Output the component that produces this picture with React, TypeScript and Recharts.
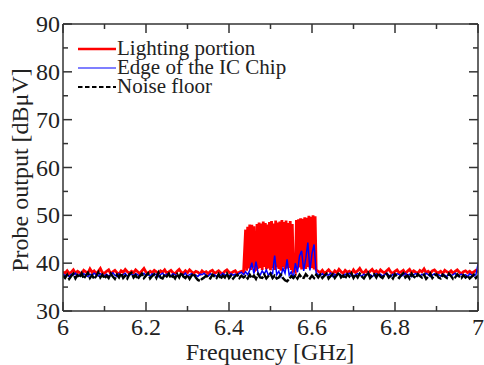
import React from "react";
import { LineChart, Line, XAxis, YAxis } from "recharts";

const FREQ_START = 6;
const FREQ_STEP = 0.005;
const BURST_START = 6.44;
const BURST_STEP = 0.0025;
const AFTER_START = 6.615;

// Lighting portion: 6.000–6.435 (step 0.005)
const lightingBefore: number[] = [
  38.2,37.9,38.4,37.8,38.1,38.6,37.9,38.3,38.0,37.7,
  38.5,38.2,37.9,38.8,38.1,38.4,37.8,38.3,38.9,38.0,
  37.9,38.3,38.6,37.8,38.2,38.5,38.0,37.7,38.4,38.1,
  38.7,38.2,37.9,38.3,38.0,38.6,38.2,37.8,38.4,38.9,
  38.1,37.9,38.3,38.0,38.5,38.2,37.8,38.4,38.1,38.6,
  37.9,38.2,38.5,38.0,37.8,38.3,38.7,38.1,37.9,38.4,
  38.0,38.6,38.2,37.9,38.3,38.1,37.7,38.4,38.0,38.2,
  37.8,38.3,38.5,37.9,38.1,38.4,38.0,37.8,38.3,38.6,
  38.1,37.9,38.2,38.4,37.8,38.1,38.3,38.0,
];
// Lighting portion: 6.440–6.610 (step 0.0025)
const lightingBurst: number[] = [
  47.0,38.4,47.6,38.9,48.1,38.6,48.0,39.1,47.7,38.5,
  38.7,48.2,38.8,48.5,39.0,48.3,38.6,48.7,39.2,48.4,
  38.7,48.1,38.9,48.6,38.5,48.8,39.0,48.3,38.6,48.9,
  39.1,48.5,38.8,48.7,38.4,49.0,39.2,48.6,38.7,48.9,
  38.9,48.4,39.0,48.8,38.6,48.2,38.5,38.8,38.4,49.0,
  38.9,49.2,39.1,49.4,38.7,49.3,39.0,49.6,38.8,49.5,
  39.2,49.9,38.9,49.7,39.0,50.0,38.7,49.8,38.6,
];
// Lighting portion: 6.615–7.000 (step 0.005)
const lightingAfter: number[] = [
  38.3,38.0,38.5,37.9,38.2,38.6,38.1,37.8,38.4,38.0,
  38.7,38.2,37.9,38.5,38.1,38.3,37.8,38.6,38.0,38.4,
  38.9,38.2,38.0,38.5,37.9,38.3,38.7,38.1,38.4,37.9,
  38.6,38.2,38.0,38.4,38.8,38.1,37.9,38.3,38.6,38.0,
  38.2,38.5,37.8,38.3,38.7,38.0,38.4,38.1,37.9,38.5,
  38.2,38.8,38.0,38.3,37.9,38.4,38.6,38.1,38.0,38.3,
  37.8,38.5,38.2,38.0,38.4,37.9,38.3,38.6,38.1,37.8,
  38.2,38.4,38.0,38.3,37.9,38.2,38.5,38.1,
];

// Edge of the IC Chip: 6.000–7.000 (step 0.005)
const edgeOfChip: number[] = [
  37.8,37.4,37.6,37.2,37.7,37.5,37.9,37.3,37.6,37.4,
  37.8,37.5,37.2,37.7,37.4,37.9,37.6,37.3,37.8,37.5,
  37.4,37.7,37.3,37.6,38.0,37.5,37.2,37.8,37.4,37.6,
  37.9,37.3,37.5,37.7,37.4,37.8,37.6,37.2,37.5,37.9,
  37.4,37.6,37.3,37.8,37.5,37.7,37.2,37.6,37.9,37.4,
  37.7,37.5,37.3,37.8,37.6,37.4,37.2,37.7,37.5,37.9,
  37.3,37.6,37.8,37.4,37.5,37.2,37.7,37.6,37.9,37.4,
  37.3,37.8,37.5,37.6,37.2,37.7,37.4,37.9,37.5,37.6,
  37.3,37.8,37.5,37.7,37.4,37.9,38.1,37.6,
  38.2,37.6,38.5,40.1,37.8,40.3,38.0,37.5,38.4,37.7,
  38.6,37.4,38.1,37.8,41.6,37.6,38.3,37.2,38.9,37.9,
  40.8,37.5,38.2,36.9,40.0,38.1,41.5,42.6,38.4,41.0,
  44.3,38.5,42.0,43.9,38.0,
  37.6,37.4,37.8,37.3,37.6,37.5,37.9,37.2,37.7,37.4,
  37.8,37.5,37.3,37.7,37.6,37.9,37.4,37.2,37.6,37.8,
  37.5,37.3,37.7,37.4,37.9,37.6,37.2,37.5,37.8,37.4,
  37.7,37.3,37.6,37.9,37.5,37.2,37.7,37.4,37.8,37.6,
  37.3,37.5,37.9,37.4,37.7,37.2,37.6,37.8,37.5,37.3,
  37.7,37.4,37.9,37.6,37.2,37.5,37.8,37.4,37.6,37.3,
  37.7,37.5,37.2,37.8,37.4,37.6,37.9,37.3,37.5,37.7,
  37.4,37.6,37.2,37.8,37.5,37.3,37.6,39.8,
];

// Noise floor: 6.000–7.000 (step 0.005)
const noiseFloor: number[] = [
  37.4,36.9,37.6,36.7,37.3,37.8,36.8,37.5,37.0,37.9,
  36.8,37.4,38.0,36.9,37.5,36.7,37.3,38.1,37.0,37.6,
  36.8,37.4,36.9,37.8,37.2,36.7,37.6,37.0,37.9,36.9,
  37.4,36.8,37.7,38.0,37.0,37.5,36.7,37.3,37.8,36.9,
  37.4,37.9,36.8,37.3,37.7,36.9,38.0,37.0,36.8,37.6,
  37.2,37.8,36.9,37.4,36.8,37.7,37.0,38.0,37.2,36.9,
  37.5,36.7,37.4,37.8,37.0,36.5,36.3,36.7,37.0,37.4,
  37.0,36.8,37.6,37.2,36.9,37.7,36.7,37.4,37.0,37.8,
  36.9,37.4,36.8,37.3,37.6,36.9,37.4,37.0,
  37.3,36.8,37.6,36.9,37.4,36.7,37.7,37.0,36.9,37.6,
  36.8,37.3,37.8,36.9,37.4,36.8,37.0,37.6,36.9,36.4,
  36.2,36.7,37.3,36.9,37.4,36.8,37.6,37.0,36.9,37.7,
  37.2,36.8,37.4,36.9,37.6,
  37.0,37.6,36.9,37.4,37.8,36.8,37.3,37.7,36.9,37.5,
  38.0,37.0,37.4,36.8,37.7,37.2,37.9,36.9,37.6,37.0,
  37.8,37.2,36.8,37.5,38.0,36.9,37.4,37.7,37.0,37.9,
  37.2,36.9,37.6,37.8,37.0,37.4,36.8,37.7,37.2,36.9,
  37.5,37.9,37.0,37.4,36.8,37.8,37.2,36.9,37.7,37.3,
  37.0,37.6,36.7,37.2,37.8,36.9,37.4,37.7,37.0,36.8,
  37.6,37.2,36.9,37.8,37.3,36.7,37.0,37.7,37.2,36.9,
  37.5,37.0,37.4,36.8,37.2,37.6,36.9,37.4,
];

const xTicks = [6, 6.1, 6.2, 6.3, 6.4, 6.5, 6.6, 6.7, 6.8, 6.9, 7];
const yTicks = [30, 35, 40, 45, 50, 55, 60, 65, 70, 75, 80, 85, 90];

const seriesNames = ["Lighting portion", "Edge of the IC Chip", "Noise floor"];

const data = edgeOfChip.map((v, i) => ({
  f: FREQ_START + i * FREQ_STEP,
  edge: v,
  noise: noiseFloor[i],
}));

const lightingData = [
  ...lightingBefore.map((v, i) => ({ f: FREQ_START + i * FREQ_STEP, lighting: v })),
  ...lightingBurst.map((v, i) => ({ f: BURST_START + i * BURST_STEP, lighting: v })),
  ...lightingAfter.map((v, i) => ({ f: AFTER_START + i * FREQ_STEP, lighting: v })),
];

const FONT = "'Liberation Serif', 'DejaVu Serif', serif";
const textStyle: React.CSSProperties = { fontFamily: FONT };
const AXIS = "#333";
const MAJOR = 9;
const MINOR = 5;

const isMajorX = (v: number) => Math.round(v * 10) % 2 === 0;
const isMajorY = (v: number) => Math.round(v) % 10 === 0;

const BottomTick = (props: any) => {
  const { x, y, payload } = props;
  const v = payload.value as number;
  const major = isMajorX(v);
  return (
    <g>
      <line x1={x} x2={x} y1={y} y2={y - (major ? MAJOR : MINOR)} stroke={AXIS} strokeWidth={1.5} />
      {major && (
        <text x={x} y={y + 24} textAnchor="middle" style={textStyle} fontSize={24} fill="#222">
          {String(Number(v.toFixed(1)))}
        </text>
      )}
    </g>
  );
};

const TopTick = (props: any) => {
  const { x, y, payload } = props;
  const major = isMajorX(payload.value);
  return <line x1={x} x2={x} y1={y} y2={y + (major ? MAJOR : MINOR)} stroke={AXIS} strokeWidth={1.5} />;
};

const LeftTick = (props: any) => {
  const { x, y, payload } = props;
  const v = payload.value as number;
  const major = isMajorY(v);
  return (
    <g>
      <line x1={x} x2={x + (major ? MAJOR : MINOR)} y1={y} y2={y} stroke={AXIS} strokeWidth={1.5} />
      {major && (
        <text x={x - 3} y={y + 8} textAnchor="end" style={textStyle} fontSize={24} fill="#222">
          {String(v)}
        </text>
      )}
    </g>
  );
};

const RightTick = (props: any) => {
  const { x, y, payload } = props;
  const major = isMajorY(payload.value);
  return <line x1={x} x2={x - (major ? MAJOR : MINOR)} y1={y} y2={y} stroke={AXIS} strokeWidth={1.5} />;
};

const legendItems = [
  { name: seriesNames[0], color: "#ff0000", width: 2.5, dash: undefined as string | undefined },
  { name: seriesNames[1], color: "#0000ff", width: 1.2, dash: undefined as string | undefined },
  { name: seriesNames[2], color: "#000000", width: 2, dash: "4.5 2.5" },
];

export default function App() {
  return (
    <div style={{ position: "absolute", left: 0, top: 0, width: 484, height: 365, background: "#fff" }}>
      <LineChart width={484} height={365} data={data} margin={{ top: 23, right: 5, bottom: 14, left: 13 }}>
        <XAxis
          dataKey="f"
          type="number"
          domain={[6, 7]}
          ticks={xTicks}
          interval={0}
          height={40}
          tickSize={0}
          tickMargin={0}
          tickLine={false}
          tick={<BottomTick />}
          axisLine={{ stroke: AXIS, strokeWidth: 1.5 }}
          allowDataOverflow
        />
        <XAxis
          xAxisId="top"
          orientation="top"
          dataKey="f"
          type="number"
          domain={[6, 7]}
          ticks={xTicks}
          interval={0}
          height={1}
          tickSize={0}
          tickMargin={0}
          tickLine={false}
          tick={<TopTick />}
          axisLine={{ stroke: AXIS, strokeWidth: 1.5 }}
          allowDataOverflow
        />
        <YAxis
          type="number"
          domain={[30, 90]}
          ticks={yTicks}
          interval={0}
          width={50}
          tickSize={0}
          tickMargin={0}
          tickLine={false}
          tick={<LeftTick />}
          axisLine={{ stroke: AXIS, strokeWidth: 1.5 }}
          allowDataOverflow
        />
        <YAxis
          yAxisId="right"
          orientation="right"
          type="number"
          domain={[30, 90]}
          ticks={yTicks}
          interval={0}
          width={1}
          tickSize={0}
          tickMargin={0}
          tickLine={false}
          tick={<RightTick />}
          axisLine={{ stroke: AXIS, strokeWidth: 1.5 }}
          allowDataOverflow
        />
        <Line data={lightingData} dataKey="lighting" name={seriesNames[0]} stroke="#ff0000" strokeWidth={2.8} dot={false} isAnimationActive={false} />
        <Line dataKey="edge" name={seriesNames[1]} stroke="#0000ff" strokeWidth={1.5} dot={false} isAnimationActive={false} />
        <Line dataKey="noise" name={seriesNames[2]} stroke="#000000" strokeWidth={2.4} strokeDasharray="9 1.5" dot={false} isAnimationActive={false} />
      </LineChart>
      <svg width={484} height={365} style={{ position: "absolute", left: 0, top: 0, pointerEvents: "none" }}>
        {legendItems.map((it, i) => {
          const y = 49 + i * 19;
          return (
            <g key={it.name}>
              <line x1={78} x2={116} y1={y} y2={y} stroke={it.color} strokeWidth={it.width} strokeDasharray={it.dash} />
              <text x={117} y={y + 6} style={textStyle} fontSize={21} fill="#222">{it.name}</text>
            </g>
          );
        })}
        <text x={270} y={360} textAnchor="middle" style={textStyle} fontSize={24} fill="#222">Frequency [GHz]</text>
        <text transform="translate(28,170) rotate(-90)" textAnchor="middle" style={textStyle} fontSize={24} fill="#222">Probe output [dBμV]</text>
      </svg>
    </div>
  );
}
